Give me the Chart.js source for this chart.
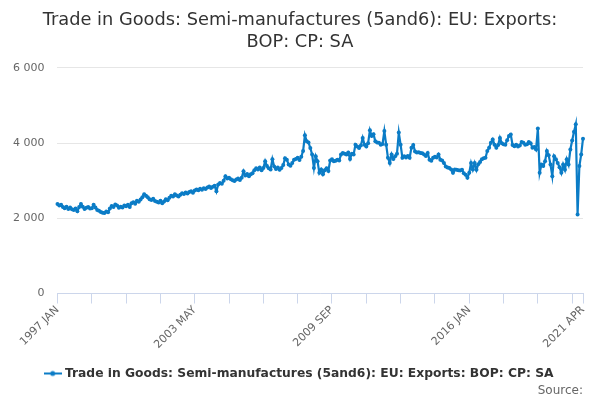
<!DOCTYPE html>
<html>
<head>
<meta charset="utf-8">
<script src="https://cdn.jsdelivr.net/npm/chart.js@4.4.1/dist/chart.umd.min.js"></script>
<style>
  html, body { margin: 0; padding: 0; background: #ffffff; }
  #wrap { width: 600px; height: 400px; }
</style>
</head>
<body>
<div id="wrap"><canvas id="c" width="600" height="400"></canvas></div>
<script>
const startYear = 1997;
const monthNames = ["JAN","FEB","MAR","APR","MAY","JUN","JUL","AUG","SEP","OCT","NOV","DEC"];
const shownLabels = ["1997 JAN", "2003 MAY", "2009 SEP", "2016 JAN", "2021 APR"];
const yTicks = [0, 2000, 4000, 6000];

const v1997 = [2380, 2340, 2360, 2300, 2270, 2310, 2250, 2290, 2240, 2220, 2260, 2190];
const v1998 = [2300, 2380, 2310, 2250, 2280, 2300, 2260, 2270, 2360, 2290, 2220, 2200];
const v1999 = [2170, 2150, 2140, 2180, 2160, 2260, 2330, 2300, 2370, 2340, 2280, 2310];
const v2000 = [2290, 2340, 2320, 2360, 2300, 2400, 2430, 2390, 2470, 2440, 2500, 2560];
const v2001 = [2640, 2600, 2560, 2510, 2490, 2520, 2460, 2440, 2420, 2470, 2400, 2450];
const v2002 = [2510, 2480, 2550, 2600, 2580, 2640, 2610, 2580, 2630, 2670, 2650, 2690];
const v2003 = [2660, 2700, 2720, 2680, 2740, 2770, 2750, 2790, 2760, 2800, 2780, 2820];
const v2004 = [2850, 2810, 2840, 2870, 2720, 2900, 2940, 2920, 3000, 3120, 3060, 3080];
const v2005 = [3040, 3010, 2990, 3030, 3060, 3020, 3080, 3250, 3140, 3180, 3120, 3170];
const v2006 = [3200, 3280, 3330, 3300, 3350, 3280, 3340, 3520, 3390, 3330, 3300, 3570];
const v2007 = [3380, 3310, 3350, 3290, 3340, 3420, 3600, 3560, 3430, 3400, 3470, 3560];
const v2008 = [3580, 3610, 3550, 3640, 3790, 4210, 4050, 4020, 3870, 3700, 3340, 3650];
const v2009 = [3520, 3210, 3300, 3170, 3280, 3330, 3260, 3540, 3570, 3520, 3530, 3560];
const v2010 = [3540, 3700, 3740, 3720, 3700, 3750, 3580, 3720, 3700, 3960, 3910, 3870];
const v2011 = [3940, 4140, 3960, 3910, 4000, 4340, 4190, 4240, 4050, 4020, 4010, 3960];
const v2012 = [3980, 4320, 3960, 3610, 3470, 3700, 3580, 3650, 3720, 4280, 3960, 3610];
const v2013 = [3650, 3620, 3660, 3610, 3880, 3950, 3780, 3750, 3760, 3740, 3730, 3700];
const v2014 = [3660, 3740, 3560, 3530, 3610, 3640, 3620, 3700, 3560, 3540, 3470, 3380];
const v2015 = [3350, 3340, 3300, 3210, 3300, 3290, 3280, 3270, 3290, 3200, 3160, 3080];
const v2016 = [3210, 3470, 3300, 3470, 3290, 3440, 3500, 3570, 3600, 3610, 3790, 3880];
const v2017 = [4010, 4100, 3960, 3880, 3950, 4140, 4000, 3970, 3960, 4080, 4190, 4230];
const v2018 = [3950, 3920, 3960, 3910, 3940, 4030, 4010, 3960, 3970, 4030, 4000, 3880];
const v2019 = [3900, 3830, 4390, 3210, 3430, 3390, 3520, 3790, 3680, 3430, 3120, 3650];
const v2020 = [3570, 3470, 3360, 3210, 3430, 3290, 3570, 3430, 3830, 4070, 4300, 4500];
const v2021 = [2100, 3390, 3700, 4120];

const seriesName = "Trade in Goods: Semi-manufactures (5and6): EU: Exports: BOP: CP: SA";
const titleLines = ["Trade in Goods: Semi-manufactures (5and6): EU: Exports:", "BOP: CP: SA"];
const sourceText = "Source:";

const values = [].concat(v1997, v1998, v1999, v2000, v2001, v2002, v2003, v2004,
  v2005, v2006, v2007, v2008, v2009, v2010, v2011, v2012, v2013, v2014, v2015,
  v2016, v2017, v2018, v2019, v2020, v2021);
const categories = values.map((_, i) => (startYear + Math.floor(i / 12)) + " " + monthNames[i % 12]);

const lineColor = "#0b7cc6";

// legend symbol: short line with a dot
const sym = document.createElement("canvas");
sym.width = 18; sym.height = 8;
(function () {
  const g = sym.getContext("2d");
  g.strokeStyle = lineColor; g.lineWidth = 2;
  g.beginPath(); g.moveTo(0, 4); g.lineTo(18, 4); g.stroke();
  g.fillStyle = lineColor;
  g.beginPath(); g.arc(9, 4, 2.5, 0, Math.PI * 2); g.fill();
})();

const fmt = v => String(v).replace(/\B(?=(\d{3})+(?!\d))/g, " ");
const lastIdx = values.length - 1;
const leftPad = 17;

// let the y-axis label area extend into the left padding so labels are not clipped
const yAxisExtend = {
  id: "yAxisExtend",
  afterLayout(chart) {
    const y = chart.scales.y;
    y.left -= leftPad;
    y.width += leftPad;
  }
};

new Chart(document.getElementById("c"), {
  type: "line",
  data: {
    labels: categories,
    datasets: [{
      label: seriesName,
      data: values,
      borderColor: lineColor,
      backgroundColor: lineColor,
      borderWidth: 2.2,
      pointRadius: 2,
      pointHoverRadius: 3,
      pointBackgroundColor: lineColor,
      pointBorderWidth: 0,
      tension: 0,
      fill: false
    }]
  },
  plugins: [yAxisExtend],
  options: {
    responsive: false,
    animation: false,
    devicePixelRatio: 1,
    layout: { padding: { left: leftPad, right: 17, top: 4, bottom: 1 } },
    plugins: {
      title: {
        display: true,
        text: titleLines,
        color: "#333333",
        font: { family: "'DejaVu Sans', sans-serif", size: 17.8, weight: "normal", lineHeight: 1.235 },
        padding: { top: 5, bottom: 15 }
      },
      subtitle: {
        display: true,
        text: sourceText,
        position: "bottom",
        align: "end",
        color: "#666666",
        font: { family: "'DejaVu Sans', sans-serif", size: 12, weight: "normal" },
        padding: { top: -6, bottom: 1 }
      },
      legend: {
        display: true,
        position: "bottom",
        labels: {
          usePointStyle: true,
          pointStyle: sym,
          color: "#333333",
          font: { family: "'DejaVu Sans', sans-serif", size: 12.3, weight: "bold" },
          padding: 8
        }
      },
      tooltip: { enabled: false }
    },
    scales: {
      x: {
        type: "category",
        offset: false,
        afterFit: scale => { scale.height += 8; },
        border: { display: true, color: "#ccd6eb", width: 1 },
        grid: {
          display: true,
          drawOnChartArea: false,
          drawTicks: true,
          tickLength: 10,
          color: ctx => (ctx.index % 19 === 0 || ctx.index === lastIdx) ? "#ccd6eb" : "rgba(0,0,0,0)"
        },
        ticks: {
          autoSkip: false,
          maxRotation: 45,
          minRotation: 45,
          padding: 0,
          color: "#666666",
          font: { family: "'DejaVu Sans', sans-serif", size: 11 },
          callback: function (val, idx) {
            const lab = categories[idx];
            return shownLabels.includes(lab) ? lab : "";
          }
        }
      },
      y: {
        min: yTicks[0],
        max: yTicks[yTicks.length - 1],
        afterFit: scale => { scale.width -= leftPad; },
        border: { display: false },
        grid: { color: "#e6e6e6", drawTicks: false },
        afterBuildTicks: axis => { axis.ticks = yTicks.map(v => ({ value: v })); },
        ticks: {
          padding: 13,
          color: "#666666",
          font: { family: "'DejaVu Sans', sans-serif", size: 11 },
          callback: v => fmt(v)
        }
      }
    }
  }
});
</script>
</body>
</html>
